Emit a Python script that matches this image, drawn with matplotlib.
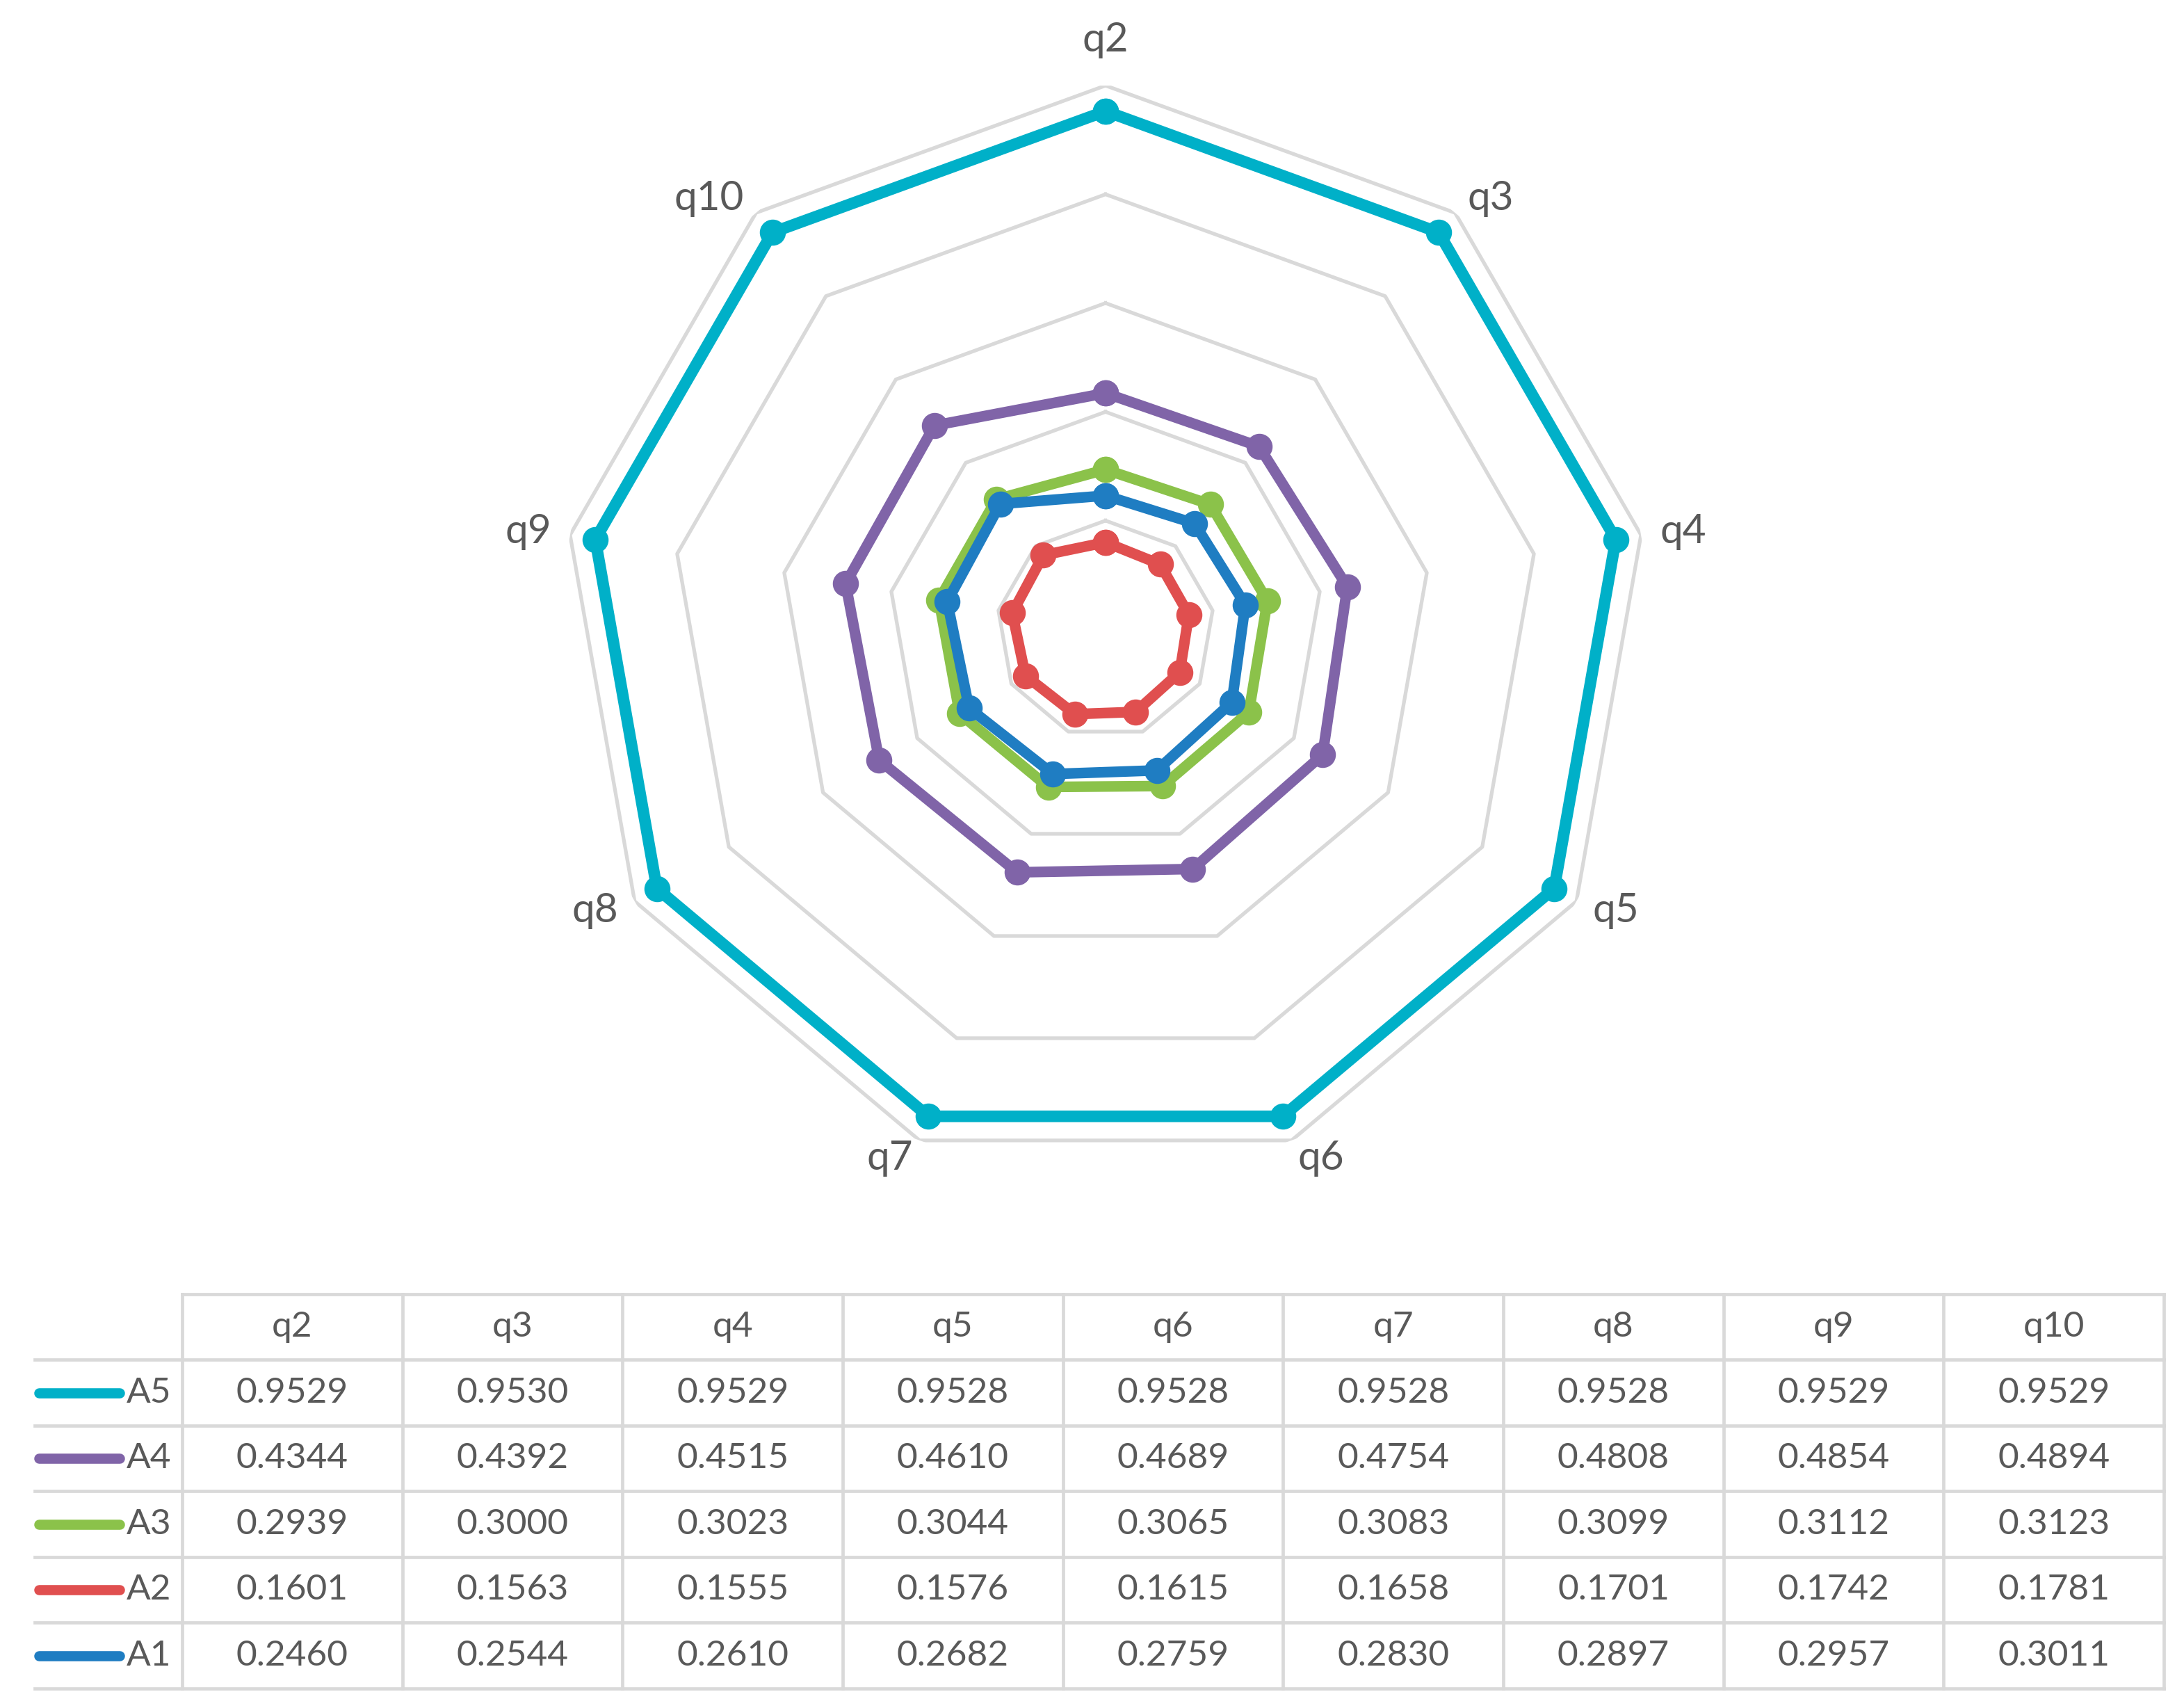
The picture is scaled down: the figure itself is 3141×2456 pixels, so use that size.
# Radar chart of q2..q10 scores per series, with an Excel-style data table below
import numpy as np
import matplotlib.pyplot as plt

plt.rcParams['font.family'] = ['Lato', 'DejaVu Sans']

questions = ["q2", "q3", "q4", "q5", "q6", "q7", "q8", "q9", "q10"]
series_names = ["A5", "A4", "A3", "A2", "A1"]
a5 = [0.9529, 0.9530, 0.9529, 0.9528, 0.9528, 0.9528, 0.9528, 0.9529, 0.9529]
a4 = [0.4344, 0.4392, 0.4515, 0.4610, 0.4689, 0.4754, 0.4808, 0.4854, 0.4894]
a3 = [0.2939, 0.3000, 0.3023, 0.3044, 0.3065, 0.3083, 0.3099, 0.3112, 0.3123]
a2 = [0.1601, 0.1563, 0.1555, 0.1576, 0.1615, 0.1658, 0.1701, 0.1742, 0.1781]
a1 = [0.2460, 0.2544, 0.2610, 0.2682, 0.2759, 0.2830, 0.2897, 0.2957, 0.3011]
series_values = [a5, a4, a3, a2, a1]
colors = ["#00B0C8", "#8064A8", "#8BC24A", "#E04F4F", "#1F7DC2"]
grid_levels = [0.2, 0.4, 0.6, 0.8, 1.0]

TEXT = "#595959"
GRID = "#D9D9D9"

fig = plt.figure(figsize=(31.41, 24.56), dpi=100)

# ---- radar ----
ax = fig.add_axes([0.2572, 0.3131, 0.498, 0.6368], projection="polar")
ax.set_theta_offset(np.pi / 2)
ax.set_theta_direction(-1)
ax.set_ylim(0, 1.0)
ax.grid(False)
ax.spines["polar"].set_visible(False)
ax.set_xticks([])
ax.set_yticks([])
ax.patch.set_alpha(0)

n = len(questions)
angles = np.linspace(0, 2 * np.pi, n, endpoint=False)
closed = np.append(angles, angles[0])

for lvl in grid_levels:
    ax.plot(closed, [lvl] * (n + 1), color=GRID, lw=3.8, zorder=1)

for name, vals, c in zip(series_names, series_values, colors):
    ax.plot(closed, list(vals) + [vals[0]], color=c,
            lw=12 if name == "A5" else 11, marker="o", ms=26,
            solid_joinstyle="round", zorder=3, clip_on=False)

# category labels: anchored on the side facing the chart, like Excel does
for ang, q in zip(angles, questions):
    s = np.sin(ang)
    if abs(s) < 0.01:
        ax.text(ang, 1.05, q, ha="center", va="bottom", fontsize=42, color=TEXT)
    else:
        ax.text(ang, 1.035, q, ha="left" if s > 0 else "right", va="center",
                fontsize=42, color=TEXT)

# ---- data table ----
key_w = 0.67
tab = fig.add_axes([0.0159, 0.0114, 0.9749, 0.2309])
tab.set_xlim(-key_w, n)
tab.set_ylim(len(series_names) + 1, 0)
tab.axis("off")

rows = len(series_names) + 1
tab.plot([0, n], [0, 0], color=GRID, lw=3.4, clip_on=False)
for r in range(1, rows + 1):
    tab.plot([-key_w, n], [r, r], color=GRID, lw=3.4, clip_on=False)
for cidx in range(n + 1):
    tab.plot([cidx, cidx], [0, rows], color=GRID, lw=3.4, clip_on=False)

for j, q in enumerate(questions):
    tab.text(j + 0.5, 0.5, q, ha="center", va="center", fontsize=37, color=TEXT)

for i, (name, vals, c) in enumerate(zip(series_names, series_values, colors)):
    y = i + 1.5
    tab.plot([-key_w + 0.02, -0.285], [y, y], color=c, lw=10.5,
             solid_capstyle="round", clip_on=False)
    tab.text(-0.05, y, name, ha="right", va="center", fontsize=37, color=TEXT)
    for j, v in enumerate(vals):
        tab.text(j + 0.5, y, f"{v:.4f}", ha="center", va="center",
                 fontsize=37, color=TEXT)

fig.savefig("out.png", dpi=100)
